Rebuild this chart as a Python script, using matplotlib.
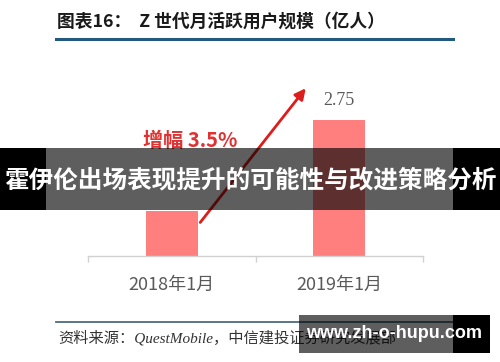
import matplotlib
matplotlib.use("Agg")
import matplotlib.pyplot as plt
from matplotlib.patches import Rectangle
from matplotlib.lines import Line2D

plt.rcParams['font.family'] = ['Noto Sans CJK SC', 'DejaVu Sans']

# ---- data ----
categories = ["2018年1月", "2019年1月"]
values = [2.65, 2.75]
value_labels = ["", "2.75"]
title = "图表16：  Z 世代月活跃用户规模（亿人）"
growth_label = "增幅 3.5%"
source = "资料来源：QuestMobile，中信建投证券研究发展部"
banner = "霍伊伦出场表现提升的可能性与改进策略分析"
watermark = "www.zh-o-hupu.com"

W, H = 500, 362
fig = plt.figure(figsize=(W / 100, H / 100), dpi=100)
fig.patch.set_facecolor("white")

def fx(x):
    return x / W

def fy(y):
    return 1 - y / H

# axes box in pixel coordinates
ax_l, ax_r, ax_t, ax_b = 88, 423, 60, 256
ax = fig.add_axes([fx(ax_l), fy(ax_b), (ax_r - ax_l) / W, (ax_b - ax_t) / H])
ax.set_facecolor("none")

ymin = 2.6
px_per_unit = 906.7
ax.set_ylim(ymin, ymin + (ax_b - ax_t) / px_per_unit)
ax.set_xlim(-0.5, 1.5)

x = list(range(len(categories)))
ax.bar(x, values, width=0.31, color="#ff7f7f", zorder=2)

for xi, v, lab in zip(x, values, value_labels):
    if lab:
        ax.text(xi, v + 0.022, lab, ha="center", va="center", fontsize=13,
                color="#595959", family=["Liberation Serif", "DejaVu Serif"])

ax.set_xticks(x)
ax.set_xticklabels(categories, fontsize=13, color="#595959")
ax.tick_params(axis="x", which="major", length=0, pad=14)
ax.set_xticks([-0.5, 0.5, 1.5], minor=True)
ax.tick_params(axis="x", which="minor", length=4, color="#d0d0d0", width=1)
ax.set_yticks([])
for s in ["left", "right", "top"]:
    ax.spines[s].set_visible(False)
ax.spines["bottom"].set_color("#d0d0d0")
ax.spines["bottom"].set_linewidth(1)

# growth arrow from first bar to above second bar
ax.annotate("", xy=(0.80, values[1] + 0.035), xytext=(0.17, values[0] - 0.013),
            arrowprops=dict(arrowstyle="-|>", color="#dd1c1c", lw=2,
                            mutation_scale=16, shrinkA=0, shrinkB=0), zorder=3)
ax.text(0.11, 2.727, growth_label, ha="center", va="center", fontsize=14.5,
        color="#e03232", fontweight="bold")

# title and rules
fig.text(fx(57), fy(22), title, ha="left", va="center", fontsize=12.8,
         fontweight="bold", color="#1a1a1a")
fig.add_artist(Line2D([fx(56), fx(453)], [fy(39), fy(39)], color="#22597d", lw=2.2))
fig.add_artist(Line2D([fx(56), fx(453)], [fy(322), fy(322)], color="#4d6b80", lw=1.3))
fig.text(fx(58), fy(338), source, ha="left", va="center", fontsize=11,
         color="#333333", style="italic",
         family=["Liberation Serif", "Noto Sans CJK SC"])

# banner overlay
fig.add_artist(Rectangle((fx(46), fy(210)), fx(453) - fx(46), (210 - 148) / H,
                         transform=fig.transFigure, facecolor="black", alpha=0.63,
                         edgecolor="none", zorder=10))
fig.add_artist(Rectangle((0, fy(210)), fx(46), (210 - 148) / H,
                         transform=fig.transFigure, facecolor="black",
                         edgecolor="none", zorder=10))
fig.add_artist(Rectangle((fx(453), fy(210)), 1 - fx(453), (210 - 148) / H,
                         transform=fig.transFigure, facecolor="black",
                         edgecolor="none", zorder=10))
fig.text(0.5, fy(180), banner, ha="center", va="center", fontsize=17.7,
         fontweight="bold", color="white", zorder=11)

# watermark box
fig.add_artist(Rectangle((fx(299), fy(353)), fx(453) - fx(299), (353 - 315) / H,
                         transform=fig.transFigure, facecolor="black", alpha=0.63,
                         edgecolor="none", zorder=10))
fig.add_artist(Rectangle((fx(453), fy(353)), fx(490) - fx(453), (353 - 315) / H,
                         transform=fig.transFigure, facecolor="black",
                         edgecolor="none", zorder=10))
fig.text(fx(394), fy(334), watermark, ha="center", va="center", fontsize=13,
         fontweight="bold", color="white", family=["Liberation Sans", "DejaVu Sans"],
         zorder=11)

fig.savefig("out.png", dpi=100)
